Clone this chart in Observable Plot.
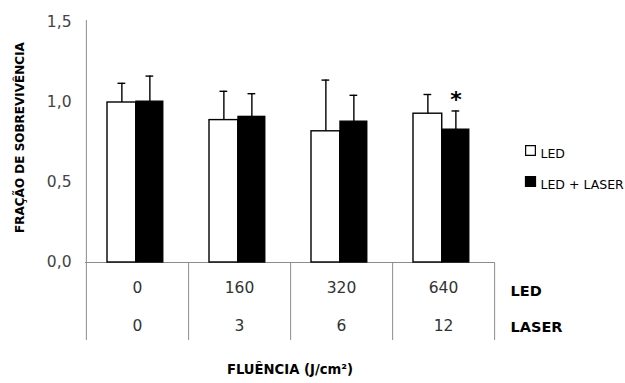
<!DOCTYPE html>
<html><head><meta charset="utf-8">
<script src="https://cdn.jsdelivr.net/npm/d3@7"></script>
<script src="https://cdn.jsdelivr.net/npm/@observablehq/plot@0.6"></script>
<style>body{margin:0;background:#fff}</style>
</head><body><div id="chart"></div>
<script>
const categories = ["0", "160", "320", "640"];
const laserDose = ["0", "3", "6", "12"];
const ledValues = [1.00, 0.89, 0.82, 0.93];
const ledErrors = [0.12, 0.18, 0.32, 0.12];
const laserValues = [1.005, 0.91, 0.88, 0.83];
const laserErrors = [0.16, 0.145, 0.165, 0.117];
const yTicks = [0, 0.5, 1.0, 1.5];
const seriesNames = ["LED", "LED + LASER"];
const significant = ["640"];

const led = categories.map((c, i) => ({cat: c, v: ledValues[i], e: ledErrors[i], laser: laserDose[i]}));
const las = categories.map((c, i) => ({cat: c, v: laserValues[i], e: laserErrors[i]}));

const L = 85, R = 494, T = 20, B = 340;
const bw = (R - L) / 4;
const font = "'DejaVu Sans', sans-serif";
const gray = "#8c8c8c";

const chart = Plot.plot({
  width: 625, height: 383,
  marginLeft: L, marginRight: 625 - R, marginTop: T, marginBottom: 383 - B,
  style: {fontFamily: font, background: "#fff", overflow: "visible"},
  x: {type: "band", domain: categories, range: [L, R], padding: 0, axis: null},
  y: {domain: [0, 1.5], range: [262, 22], ticks: yTicks, tickSize: 0, tickPadding: 14,
      tickFormat: d => d3.format(".1f")(d).replace(".", ","), label: null, line: false},
  marks: [
    Plot.ruleX([categories[0]], {x: d => d, dx: -bw / 2, stroke: gray, strokeWidth: 1}),
    Plot.ruleX(categories, {x: d => d, dx: bw / 2, insetTop: 262 - T, stroke: gray, strokeWidth: 1}),
    Plot.ruleY([0], {stroke: gray, strokeWidth: 1.2}),
    Plot.barY(led, {x: "cat", y: "v", fill: "#fff", stroke: "#000", strokeWidth: 1.4, insetLeft: 21, insetRight: bw - 50}),
    Plot.barY(las, {x: "cat", y: "v", fill: "#000", stroke: "#000", strokeWidth: 1.4, insetLeft: 50, insetRight: bw - 77}),
    Plot.ruleX(led, {x: "cat", y1: "v", y2: d => d.v + d.e, dx: 35.5 - bw / 2, stroke: "#000", strokeWidth: 1.4}),
    Plot.ruleX(las, {x: "cat", y1: "v", y2: d => d.v + d.e, dx: 63.5 - bw / 2, stroke: "#000", strokeWidth: 1.4}),
    Plot.tickY(led, {x: "cat", y: d => d.v + d.e, insetLeft: 31.5, insetRight: bw - 39.5, stroke: "#000", strokeWidth: 1.4}),
    Plot.tickY(las, {x: "cat", y: d => d.v + d.e, insetLeft: 59.5, insetRight: bw - 67.5, stroke: "#000", strokeWidth: 1.4}),
    Plot.text(las.filter(d => significant.includes(d.cat)), {x: "cat", y: d => d.v + d.e, text: () => "*", dx: 63.5 - bw / 2, dy: -11, fontSize: 22, fontWeight: "bold", fill: "#000"}),
    Plot.text(led, {x: "cat", text: "cat", frameAnchor: "bottom", dy: -48, fontSize: 15.5, fill: "#333"}),
    Plot.text(led, {x: "cat", text: "laser", frameAnchor: "bottom", dy: -10, fontSize: 15.5, fill: "#333"}),
    Plot.text(["LED"], {frameAnchor: "bottom-right", dx: 16, dy: -45, textAnchor: "start", fontSize: 14.5, fontWeight: "bold", fill: "#000"}),
    Plot.text(["LASER"], {frameAnchor: "bottom-right", dx: 16, dy: -9, textAnchor: "start", fontSize: 14.5, fontWeight: "bold", fill: "#000"}),
    Plot.text(["FLUÊNCIA (J/cm²)"], {frameAnchor: "bottom", dy: 33, fontSize: 13.2, fontWeight: "bold", fill: "#000"}),
    Plot.text(["FRAÇÃO DE SOBREVIVÊNCIA"], {frameAnchor: "left", textAnchor: "middle", dx: -65, dy: -43, rotate: -90, fontSize: 12, fontWeight: "bold", fill: "#000"}),
    Plot.dot([seriesNames[0]], {frameAnchor: "top-right", dx: 36, dy: 130, symbol: "square", r: 5.5, fill: "#fff", stroke: "#000", strokeWidth: 1.2}),
    Plot.text([seriesNames[0]], {frameAnchor: "top-right", dx: 46, dy: 129, textAnchor: "start", fontSize: 12.5, fill: "#000"}),
    Plot.dot([seriesNames[1]], {frameAnchor: "top-right", dx: 36, dy: 161, symbol: "square", r: 5.5, fill: "#000", stroke: "#000"}),
    Plot.text([seriesNames[1]], {frameAnchor: "top-right", dx: 46, dy: 160, textAnchor: "start", fontSize: 12.5, fill: "#000"})
  ]
});
chart.querySelectorAll("g[aria-label^='y-axis'] text").forEach(t => { t.setAttribute("fill", "#444"); });
chart.querySelectorAll("g[aria-label^='y-axis']").forEach(g => { g.setAttribute("font-size", "15.5"); g.style.fontSize = "15.5px"; });
document.getElementById("chart").appendChild(chart);
</script></body></html>
